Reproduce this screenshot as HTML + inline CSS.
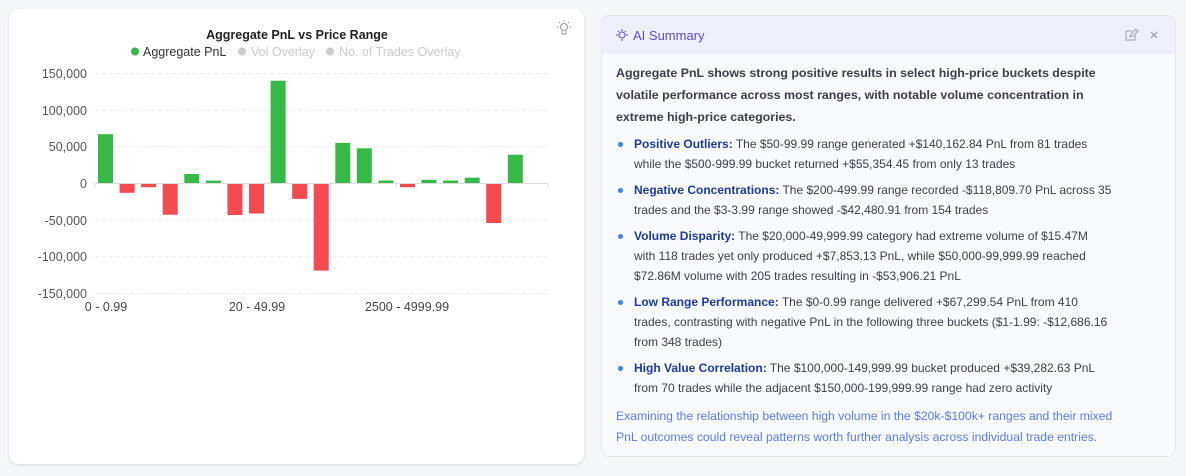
<!DOCTYPE html>
<html><head><meta charset="utf-8"><style>
body{margin:0;width:1186px;height:476px;background:#f6f7f9;font-family:"Liberation Sans",sans-serif;position:relative;overflow:hidden}
.lc{position:absolute;left:9px;top:9px;width:575px;height:455px;background:#fff;border-radius:10px;box-shadow:0 1px 3px rgba(0,0,0,.12)}
.rc{position:absolute;left:601px;top:15px;width:573px;height:440px;background:#f8fafd;border:1px solid #e3e8f0;border-radius:8px;overflow:hidden}
.hd{height:38px;background:#eef1fc;position:relative}
.hd .t{position:absolute;left:31px;top:12px;font-size:13px;color:#5b4bd6}
.bd{padding:4px 62px 0 14px;font-size:12px;color:#374151}
.lead{font-weight:bold;line-height:22px;color:#3b3f4a;margin-top:4px;font-size:12.4px;margin-right:6px}
ul{list-style:none;margin:6px 0 0 0;padding:0}
li{position:relative;padding-left:18px;line-height:20px;margin-bottom:6px;color:#3b3f4a}
li:before{content:"";position:absolute;left:2px;top:8px;width:5px;height:5px;border-radius:50%;background:#3b82f6}
li b{color:#1e3a9a}
.ft{color:#5b7cf0;line-height:21px;margin-top:8px;margin-right:-20px;font-size:12.2px}
</style></head><body>
<div class="lc"></div>
<svg style="position:absolute;left:0;top:0" width="590" height="320" font-family="Liberation Sans,sans-serif">
<text x="297" y="39" text-anchor="middle" font-size="12.5" font-weight="bold" fill="#222">Aggregate PnL vs Price Range</text>
<circle cx="135" cy="51.5" r="4" fill="#37b94a"/><text x="143" y="56" font-size="12.5" fill="#333">Aggregate PnL</text>
<circle cx="242" cy="51.5" r="4" fill="#ccc"/><text x="251" y="56" font-size="12.5" fill="#ccc">Vol Overlay</text>
<circle cx="330" cy="51.5" r="4" fill="#ccc"/><text x="339" y="56" font-size="12.5" fill="#ccc">No. of Trades Overlay</text>
<g stroke="#ececec" stroke-dasharray="4 3">
<line x1="95" x2="548" y1="73.5" y2="73.5"/><line x1="95" x2="548" y1="110.2" y2="110.2"/><line x1="95" x2="548" y1="146.8" y2="146.8"/><line x1="95" x2="548" y1="220.2" y2="220.2"/><line x1="95" x2="548" y1="256.8" y2="256.8"/><line x1="95" x2="548" y1="293.5" y2="293.5"/></g>
<g font-size="12.5" fill="#555" text-anchor="end">
<text x="87" y="78">150,000</text><text x="87" y="115">100,000</text><text x="87" y="151">50,000</text><text x="87" y="188">0</text><text x="87" y="225">-50,000</text><text x="87" y="261">-100,000</text><text x="87" y="298">-150,000</text></g>
<g fill="#37b94a">
<rect x="98" y="134.2" width="15" height="49.3"/>
<rect x="184.3" y="174" width="15" height="9.5"/>
<rect x="205.9" y="180.6" width="15" height="2.9"/>
<rect x="270.6" y="80.7" width="15" height="102.8"/>
<rect x="335.3" y="142.9" width="15" height="40.6"/>
<rect x="356.8" y="148.3" width="15" height="35.2"/>
<rect x="378.4" y="180.5" width="15" height="3"/>
<rect x="421.5" y="179.8" width="15" height="3.7"/>
<rect x="443.1" y="180.5" width="15" height="3"/>
<rect x="464.7" y="177.7" width="15" height="5.8"/>
<rect x="507.8" y="154.7" width="15" height="28.8"/></g>
<g fill="#f54a4f">
<rect x="119.6" y="183.5" width="15" height="9.3"/>
<rect x="141.1" y="183.5" width="15" height="3.7"/>
<rect x="162.7" y="183.5" width="15" height="31.2"/>
<rect x="227.4" y="183.5" width="15" height="31.5"/>
<rect x="249" y="183.5" width="15" height="30"/>
<rect x="292.2" y="183.5" width="15" height="15.4"/>
<rect x="313.7" y="183.5" width="15" height="87.1"/>
<rect x="400" y="183.5" width="15" height="3.7"/>
<rect x="486.2" y="183.5" width="15" height="39.5"/></g>
<line x1="95" x2="548" y1="183.5" y2="183.5" stroke="#ddd"/>
<g stroke="#ddd"><line x1="95" x2="95" y1="183.5" y2="188"/><line x1="246" x2="246" y1="183.5" y2="188"/><line x1="396" x2="396" y1="183.5" y2="188"/><line x1="548" x2="548" y1="183.5" y2="188"/></g>
<g font-size="12.5" fill="#444" text-anchor="middle"><text x="106" y="311">0 - 0.99</text><text x="257" y="311">20 - 49.99</text><text x="407" y="311">2500 - 4999.99</text></g>
<g stroke="#999" fill="none" stroke-width="1"><circle cx="564" cy="27" r="3.5"/><path d="M562 31v3h4v-3M559 22l1 1M569 22l-1 1M564 20v1.5M557 27h1.5M571 27h-1.5"/></g>
</svg>
<div class="rc">
<div class="hd">
<svg style="position:absolute;left:13px;top:12px" width="14" height="14" stroke="#5b4bd6" fill="none"><circle cx="7" cy="7" r="3"/><path d="M7 1v2M7 11v2M1 7h2M11 7h2M3 3l1 1M11 3l-1 1"/></svg>
<span class="t">AI Summary</span>
<svg style="position:absolute;left:523px;top:12px" width="40" height="14" stroke="#9aa3b5" fill="none"><path d="M1 3h6M1 3v9h9V7M5 9l1-3 5-5 2 2-5 5z"/><path d="M26 4l6 6M32 4l-6 6" stroke-width="1.3"/></svg>
</div>
<div class="bd">
<div class="lead">Aggregate PnL shows strong positive results in select high-price buckets despite volatile performance across most ranges, with notable volume concentration in extreme high-price categories.</div>
<ul>
<li><b>Positive Outliers:</b> The $50-99.99 range generated +$140,162.84 PnL from 81 trades while the $500-999.99 bucket returned +$55,354.45 from only 13 trades</li>
<li><b>Negative Concentrations:</b> The $200-499.99 range recorded -$118,809.70 PnL across 35 trades and the $3-3.99 range showed -$42,480.91 from 154 trades</li>
<li style="margin-right:10px"><b>Volume Disparity:</b> The $20,000-49,999.99 category had extreme volume of $15.47M with 118 trades yet only produced +$7,853.13 PnL, while $50,000-99,999.99 reached $72.86M volume with 205 trades resulting in -$53,906.21 PnL</li>
<li><b>Low Range Performance:</b> The $0-0.99 range delivered +$67,299.54 PnL from 410 trades, contrasting with negative PnL in the following three buckets ($1-1.99: -$12,686.16 from 348 trades)</li>
<li><b>High Value Correlation:</b> The $100,000-149,999.99 bucket produced +$39,282.63 PnL from 70 trades while the adjacent $150,000-199,999.99 range had zero activity</li>
</ul>
<div class="ft">Examining the relationship between high volume in the $20k-$100k+ ranges and their mixed PnL outcomes could reveal patterns worth further analysis across individual trade entries.</div>
</div></div>
</body></html>
